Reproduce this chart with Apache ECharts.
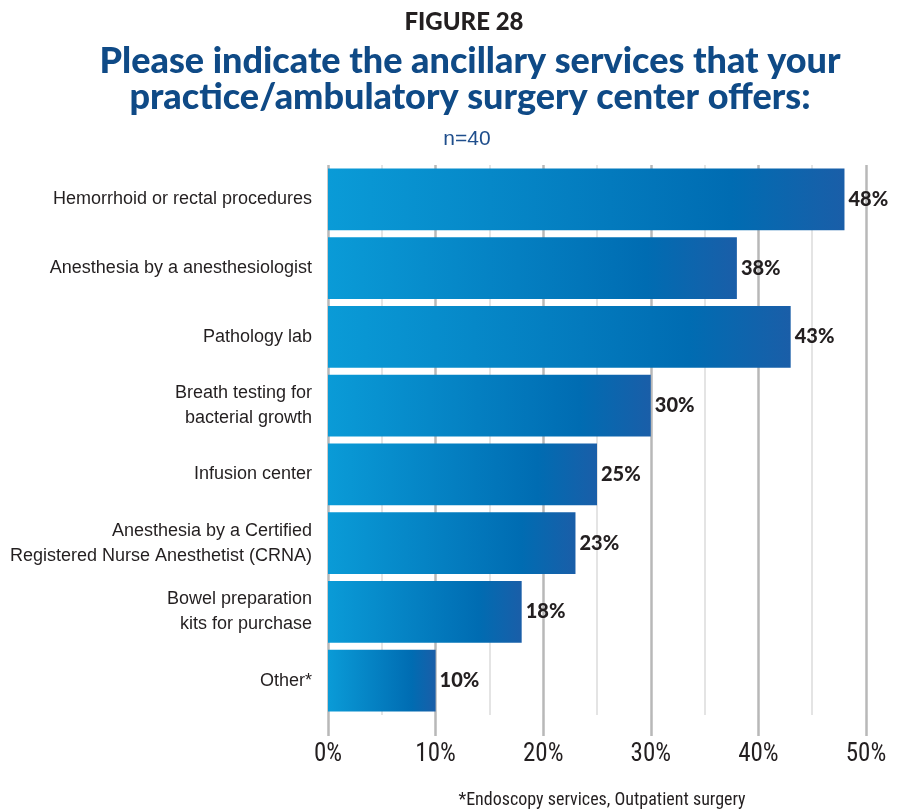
<!DOCTYPE html>
<html>
<head>
<meta charset="utf-8">
<script src="https://cdn.jsdelivr.net/npm/echarts@6/dist/echarts.min.js"></script>
<style>
  html, body { margin: 0; padding: 0; background: #fff; }
  #chart { width: 901px; height: 811px; }
</style>
</head>
<body>
<div id="chart"></div>
<script>
// Survey responses (n=40), share of practices offering each service
const categories = [
  'Hemorrhoid or rectal procedures',
  'Anesthesia by a anesthesiologist',
  'Pathology lab',
  'Breath testing for\nbacterial growth',
  'Infusion center',
  'Anesthesia by a Certified\nRegistered Nurse Anesthetist (CRNA)',
  'Bowel preparation\nkits for purchase',
  'Other*'
];
const values = [48, 38, 43, 30, 25, 23, 18, 10];
const tickValues = [0, 10, 20, 30, 40, 50];

const narrow = '"Liberation Sans Narrow", "Roboto Condensed", sans-serif';
const plain = '"Liberation Sans", Arial, sans-serif';
const heavy = 'Lato, "Open Sans", sans-serif';

const chart = echarts.init(document.getElementById('chart'), null, { renderer: 'canvas' });

const barGradient = new echarts.graphic.LinearGradient(0, 0, 1, 0, [
  { offset: 0, color: '#0a9bd7' },
  { offset: 0.78, color: '#006cb2' },
  { offset: 1, color: '#1a5ea8' }
]);

chart.setOption({
  animation: false,
  title: [
    {
      text: 'FIGURE 28',
      left: 459, top: 5, textAlign: 'center',
      textStyle: { fontFamily: heavy, fontWeight: 900, fontSize: 24, color: '#231f20' }
    },
    {
      text: 'Please indicate the ancillary services that your\npractice/ambulatory surgery center offers:',
      left: 465, top: 38, textAlign: 'center',
      textStyle: { fontFamily: heavy, fontWeight: 900, fontSize: 36, lineHeight: 36, color: '#0f4a86' }
    },
    {
      text: 'n=40',
      left: 462, top: 124, textAlign: 'center',
      textStyle: { fontFamily: plain, fontWeight: 'normal', fontSize: 21, color: '#1f4e8c' }
    },
    {
      text: '*Endoscopy services, Outpatient surgery',
      left: 597, top: 786, textAlign: 'center',
      textStyle: { fontFamily: narrow, fontWeight: 'normal', fontSize: 18, color: '#231f20' }
    }
  ],
  grid: { left: 328, right: 35, top: 165, bottom: 96, containLabel: false },
  xAxis: {
    type: 'value',
    min: tickValues[0],
    max: tickValues[tickValues.length - 1],
    interval: 10,
    axisLine: { show: false },
    axisTick: { show: true, length: 21, lineStyle: { color: '#b8b8b8', width: 2.5 } },
    axisLabel: {
      margin: 27,
      fontFamily: narrow, fontSize: 25, color: '#231f20',
      formatter: v => v + '%'
    },
    splitLine: { show: true, lineStyle: { color: '#b8b8b8', width: 2.5 } },
    minorTick: { show: false, splitNumber: 2 },
    minorSplitLine: { show: true, lineStyle: { color: '#dcdcdc', width: 1.5 } }
  },
  yAxis: {
    type: 'category',
    inverse: true,
    data: categories,
    axisLine: { show: false },
    axisTick: { show: false },
    axisLabel: {
      margin: 16,
      fontFamily: plain, fontSize: 18, lineHeight: 25, color: '#231f20', align: 'right'
    }
  },
  series: [{
    type: 'bar',
    data: values,
    barCategoryGap: '10%',
    itemStyle: { color: barGradient },
    label: {
      show: true,
      position: 'right',
      distance: 4,
      formatter: p => p.value + '%',
      fontFamily: heavy, fontWeight: 900, fontSize: 20, color: '#231f20'
    }
  }]
});
</script>
</body>
</html>
